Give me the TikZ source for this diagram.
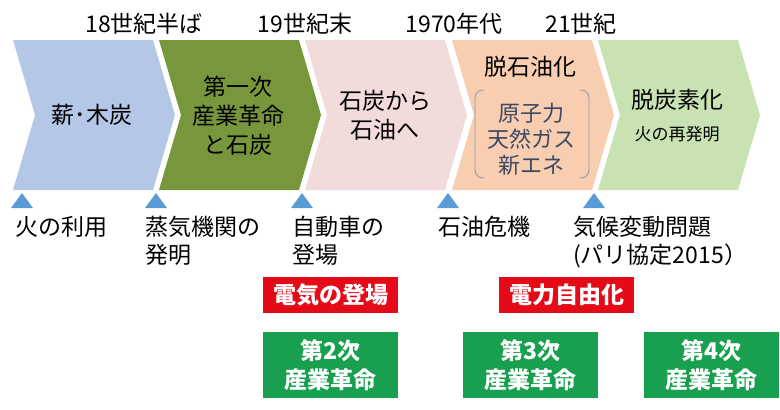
\documentclass[tikz,border=0pt]{standalone}
\usepackage{fontspec}
\setmainfont{Noto Sans CJK JP}
\usetikzlibrary{positioning}
\definecolor{paleblue}{RGB}{180,199,231}
\definecolor{olivegreen}{RGB}{120,150,60}
\definecolor{palepink}{RGB}{242,220,219}
\definecolor{palepeach}{RGB}{249,205,176}
\definecolor{palegreen}{RGB}{200,226,178}
\definecolor{markerblue}{RGB}{91,155,213}
\definecolor{alertred}{RGB}{228,10,24}
\definecolor{eventgreen}{RGB}{24,160,80}
\definecolor{slateblue}{RGB}{60,74,100}
\definecolor{bracketgray}{RGB}{140,150,168}

\begin{document}
\begin{tikzpicture}[x=1pt,y=-1pt,
    era/.style={font=\fontsize{23}{29}\selectfont, align=center, inner sep=0pt},
    event/.style={font=\fontsize{23}{28}\selectfont, align=left, anchor=north west, inner sep=0pt},
    redbox/.style={fill=alertred, text=white, font=\fontsize{23}{26}\selectfont\bfseries,
      minimum width=135pt, minimum height=36pt, inner sep=0pt},
    greenbox/.style={fill=eventgreen, text=white, font=\fontsize{23}{29}\selectfont\bfseries,
      align=center, minimum width=135pt, minimum height=66pt, inner sep=0pt}]
  \useasboundingbox (0,0) rectangle (780,410);

  % chevrons
  \foreach \x/\col in {13/paleblue,159/olivegreen,305/palepink,452/palepeach,598/palegreen}
  {
    \fill[\col] (\x,40) -- ++(140,0) -- ++(22,75) -- ++(-22,75) -- ++(-140,0) -- ++(22,-75) -- cycle;
  }

  % markers
  \foreach \x in {22,156,302,448,594}
  {
    \fill[markerblue] (\x-11,208) -- (\x+11,208) -- (\x,193) -- cycle;
  }

  % dates
  \foreach \x/\name/\txt in {144/d18/18世紀半ば,305/d19/19世紀末,454/d1970/1970年代,581/d21/21世紀}
  {
    \node[era] (\name) at (\x,24) {\txt};
  }

  % eras
  \node[era] (wood) at (92,115) {薪･木炭};
  \node[era] (coal) at (238,116) {第一次\\産業革命\\と石炭};
  \node[era] (oil) at (385,115) {石炭から\\石油へ};
  \node[era] (postoil) at (530,67) {脱石油化};
  \node[era, text=slateblue, font=\fontsize{22}{26}\selectfont] (alt) at (531,139) {原子力\\天然ガス\\新エネ};
  \draw[bracketgray, line width=0.8pt, rounded corners=8pt] (484,90) -- (475,90) -- (475,178) -- (484,178);
  \draw[bracketgray, line width=0.8pt, rounded corners=8pt] (580,90) -- (589,90) -- (589,178) -- (580,178);
  \node[era] (decarb) at (677,100) {脱炭素化};
  \node[era, font=\fontsize{17}{20}\selectfont] (fire) at (677,134) {火の再発明};

  % events
  \node[event] (e1) at (15,216) {火の利用};
  \node[event] (e2) at (145,216) {蒸気機関の\\発明};
  \node[event] (e3) at (292,216) {自動車の\\登場};
  \node[event] (e4) at (438,216) {石油危機};
  \node[event] (e5) at (573,216) {気候変動問題\\(パリ協定2015）};

  % boxes
  \node[redbox] (elec) at (330.5,295) {電気の登場};
  \node[redbox] (liberal) at (566.5,295) {電力自由化};
  \node[greenbox] (ir2) at (330.5,365) {第2次\\産業革命};
  \node[greenbox] (ir3) at (530.5,365) {第3次\\産業革命};
  \node[greenbox] (ir4) at (711.5,365) {第4次\\産業革命};
\end{tikzpicture}
\end{document}
